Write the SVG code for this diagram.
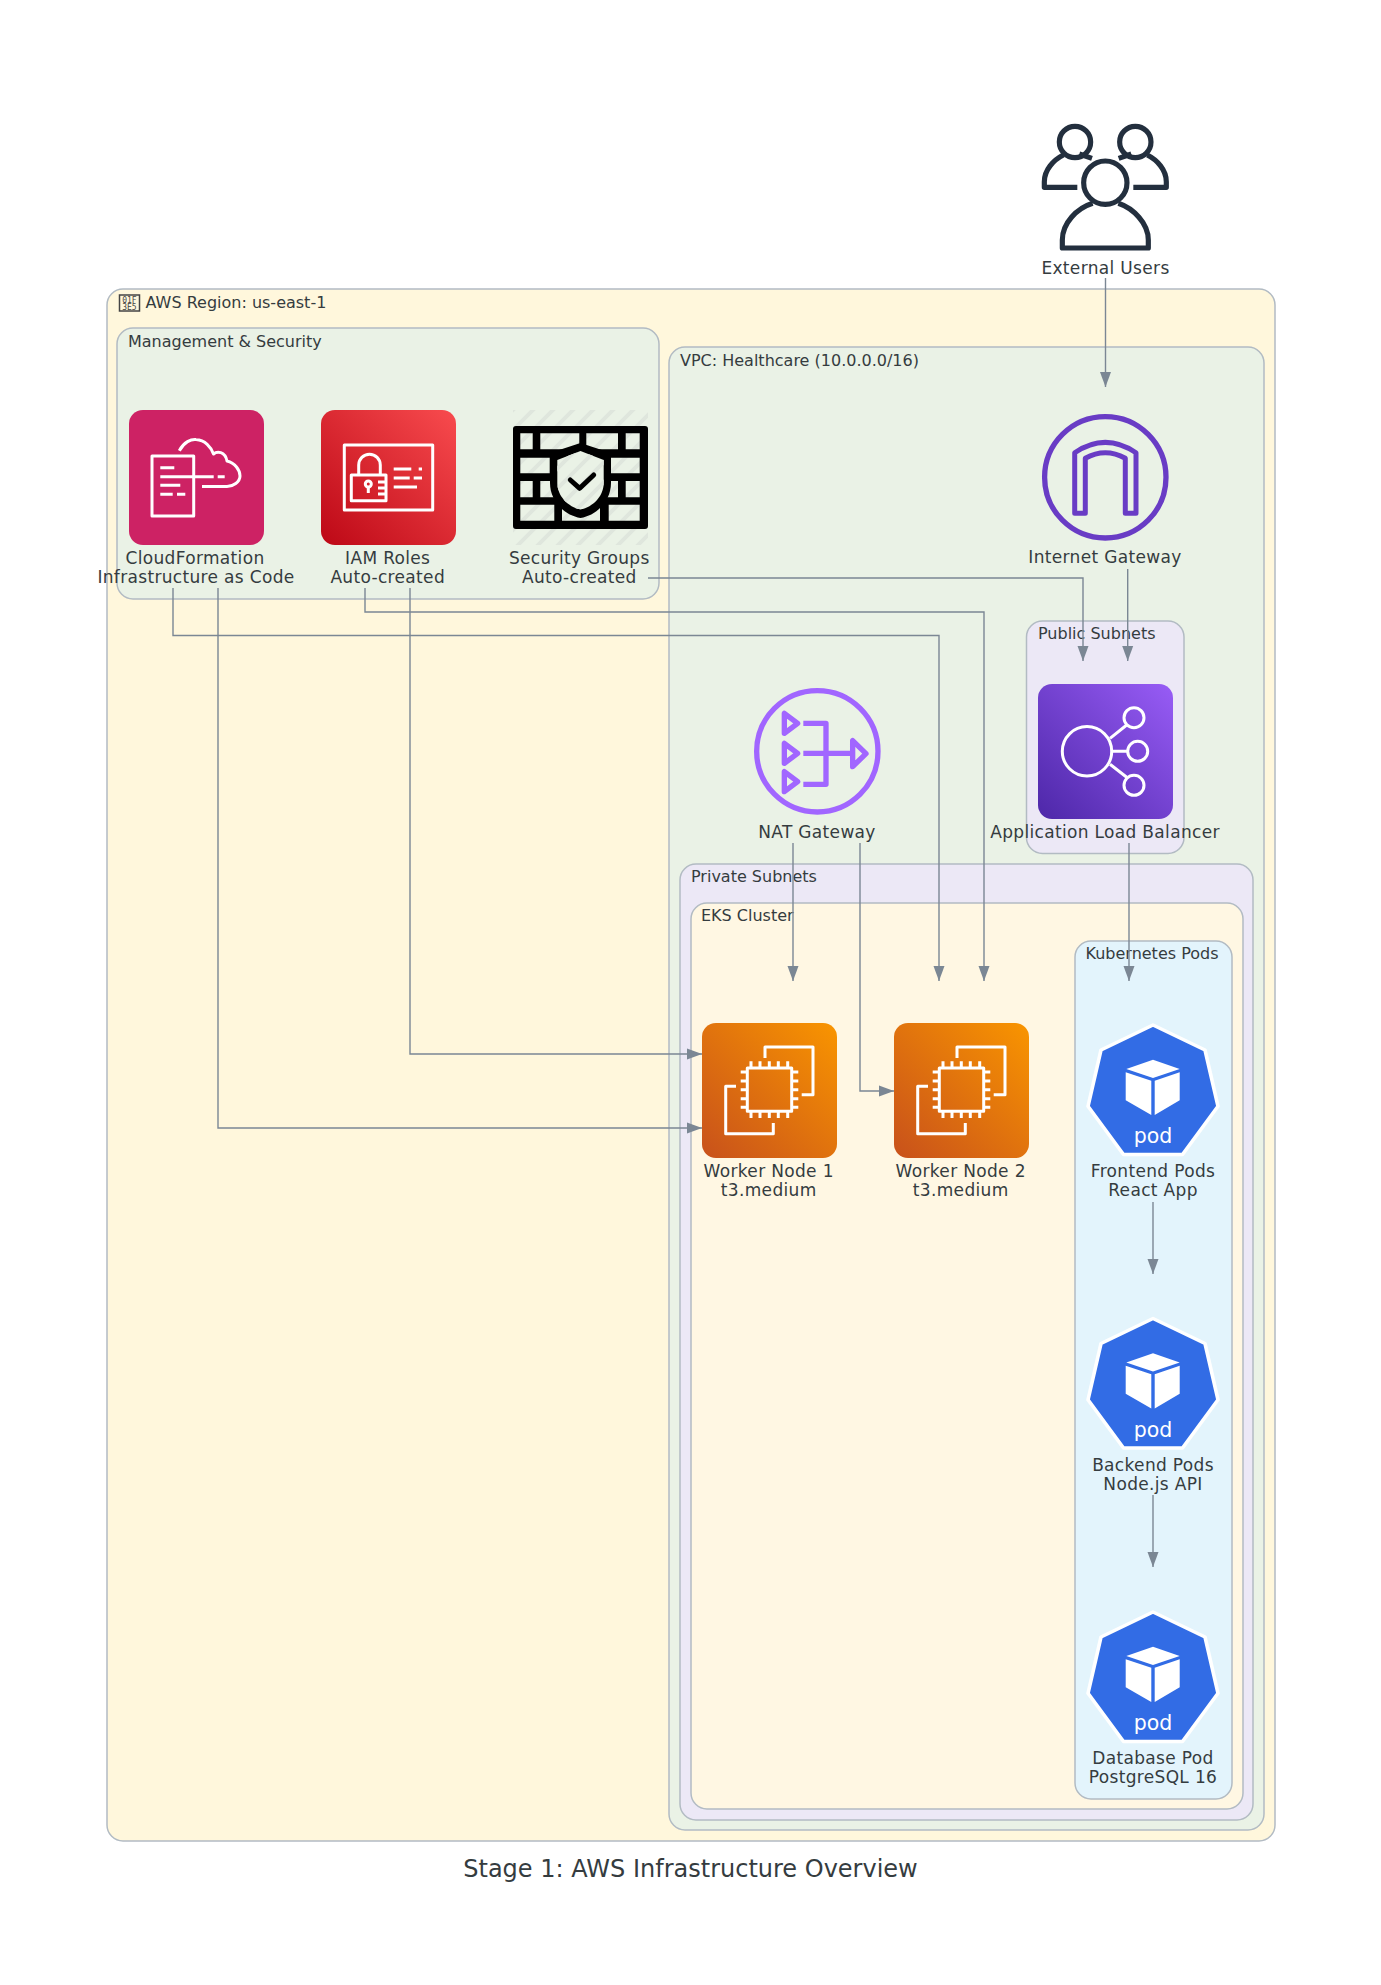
<svg xmlns="http://www.w3.org/2000/svg" width="1381" height="1985" viewBox="0 0 1381 1985">
<style>
text{font-family:"DejaVu Sans","Liberation Sans",sans-serif;fill:#353c3f}
.l{font-size:17px;letter-spacing:.33px;text-anchor:middle}
.c{font-size:16px}
.t{font-size:24px;text-anchor:middle}
.p{font-size:20.500px;fill:#fff;text-anchor:middle}
.h{font-family:"DejaVu Sans Mono",monospace;font-size:8px;fill:#444}
.cl{stroke:#b2bbc3;stroke-width:1.5}
.e{fill:none;stroke:#7b8794;stroke-width:1.4;marker-end:url(#ah)}
.w{fill:none;stroke:#fff;stroke-width:3;stroke-linejoin:round}
</style>
<defs>
<marker id="ah" markerUnits="userSpaceOnUse" markerWidth="16" markerHeight="12" refX="15" refY="6" orient="auto"><path d="M0 .5L15 6L0 11.5Z" fill="#7b8794"/></marker>
<linearGradient id="g-iam" x1="0" y1="1" x2="1" y2="0"><stop offset="0" stop-color="#bd0816"/><stop offset="1" stop-color="#f84b4e"/></linearGradient>
<linearGradient id="g-ec2" x1="0" y1="1" x2="1" y2="0"><stop offset="0" stop-color="#c8511b"/><stop offset="1" stop-color="#f99500"/></linearGradient>
<linearGradient id="g-alb" x1="0" y1="1" x2="1" y2="0"><stop offset="0" stop-color="#4d27a8"/><stop offset="1" stop-color="#985cf6"/></linearGradient>
<pattern id="hatch" width="20" height="20" patternUnits="userSpaceOnUse" patternTransform="translate(513 410)"><path d="M-5 5L5 -5M-5 25L25 -5M15 25L25 15" stroke="#dfe6dd" stroke-width="4" fill="none"/></pattern>
<g id="ec2-icon">
<rect width="135" height="135" rx="14" fill="url(#g-ec2)"/>
<path class="w" d="M63 35V24H111V71.700H99.700M34 63.300H23.700V110.700H71.300V100M45.300 45H89.700V88.300H45.300Z"/>
<path class="w" d="M49 38.300V45M58 38.300V45M67.300 38.300V45M76.300 38.300V45M85.700 38.300V45M49 88.300V95M58 88.300V95M67.300 88.300V95M76.300 88.300V95M85.700 88.300V95M38.700 49H45.300M38.700 58H45.300M38.700 66.700H45.300M38.700 75.700H45.300M38.700 84.300H45.300M89.700 49H96.300M89.700 58H96.300M89.700 66.700H96.300M89.700 75.700H96.300M89.700 84.300H96.300"/>
</g>
<g id="pod-icon">
<path d="M0 2L52 27L65 83.300L29.500 131.500H-29.500L-65 83.300L-52 27Z" fill="#326ce5" stroke="#fff" stroke-width="3.600" stroke-linejoin="round"/>
<path d="M0 36.700L26.700 46L0 55L-26.700 46ZM-27.300 49.300L-1.700 57.700V92L-27.300 77.300ZM1.700 57.700L26.700 49.300V77.300L1.700 92Z" fill="#fff"/>
<text class="p" x="0" y="120">pod</text>
</g>
</defs>
<rect width="1381" height="1985" fill="#fff"/>
<g id="clusters">
<g id="region"><rect class="cl" x="107" y="289" width="1168" height="1552" rx="16" fill="#fff7dc"/>
<rect x="119.500" y="295" width="20" height="16" fill="none" stroke="#444" stroke-width="1.500"/><text class="h" x="122.200" y="302.500">01F</text><text class="h" x="122.200" y="310">3E5</text>
<text class="c" x="145.500" y="308">AWS Region: us-east-1</text></g>
<g id="management"><rect class="cl" x="117" y="328" width="542" height="271" rx="16" fill="#eaf2e6"/><text class="c" x="128" y="347">Management &amp; Security</text></g>
<g id="vpc"><rect class="cl" x="669" y="347" width="595" height="1483" rx="16" fill="#eaf2e6"/><text class="c" x="680" y="366">VPC: Healthcare (10.0.0.0/16)</text></g>
<g id="public"><rect class="cl" x="1026.500" y="621" width="157.500" height="232.500" rx="16" fill="#ece8f6"/><text class="c" x="1038" y="639">Public Subnets</text></g>
<g id="private"><rect class="cl" x="680" y="864" width="573" height="956" rx="16" fill="#ece8f6"/><text class="c" x="691" y="882">Private Subnets</text></g>
<g id="eks"><rect class="cl" x="691" y="903" width="552" height="906" rx="16" fill="#fff7e3"/><text class="c" x="701" y="921">EKS Cluster</text></g>
<g id="pods"><rect class="cl" x="1075" y="941" width="157" height="858" rx="16" fill="#e3f4fc"/><text class="c" x="1085.500" y="959">Kubernetes Pods</text></g>
</g>
<g id="connectors">
<path class="e" d="M1105.500 278V387"/>
<path class="e" d="M1127.700 569V661"/>
<path class="e" d="M648 578H1083V661"/>
<path class="e" d="M365 588V612H984V981"/>
<path class="e" d="M173 588V635.500H939V981"/>
<path class="e" d="M218 588V1128H702"/>
<path class="e" d="M410 588V1054H702"/>
<path class="e" d="M793 843V981"/>
<path class="e" d="M860 843V1091H894"/>
<path class="e" d="M1129 843V981"/>
<path class="e" d="M1153 1202V1274"/>
<path class="e" d="M1153 1495V1567"/>
</g>
<g id="users">
<g transform="translate(1000 100) scale(.3333)" fill="none" stroke="#232f3e" stroke-width="15.500" stroke-linejoin="round">
<circle cx="316" cy="248" r="65"/><circle cx="225" cy="126" r="47"/><circle cx="406" cy="126" r="47"/>
<path d="M278 310C230 325 187 370 187 420V444H445V420C445 370 400 325 355 310M232 262H133V245C133 210 160 180 190 165M238 162L276 175M400 262H499V245C499 210 472 180 442 165M394 162L356 175"/>
</g>
<text class="l" x="1105.500" y="274">External Users</text>
</g>
<g id="igw">
<circle cx="1105.300" cy="477.300" r="60.700" fill="none" stroke="#693cc5" stroke-width="5.300"/>
<path d="M1074.700 513.300V452.700Q1105.300 432 1136 452.700V513.300H1125.300V458.300Q1105.300 447 1085.300 458.300V513.300Z" fill="none" stroke="#693cc5" stroke-width="5" stroke-linejoin="round"/>
<text class="l" x="1105" y="563">Internet Gateway</text>
</g>
<g id="cloudformation">
<g transform="translate(129 410)">
<rect width="135" height="135" rx="14" fill="#cd2264"/>
<path class="w" d="M23 46H64.700V106H23ZM31.300 57.700H45.300M31.300 66.700H84.700M88.700 66.700H95.700M31.300 75.300H51.300M31.300 84.300H43.700M48 84.300H56.300M50.300 40.700C55 32 62 29 67 29.500C76 30 82 37 84.500 44C88 41 96 41 98 51C106 53 111 60 111 66C111 72 104 76.500 98 76.500H73"/>
</g>
<text class="l" x="195" y="564">CloudFormation</text><text class="l" x="196" y="583">Infrastructure as Code</text>
</g>
<g id="iam">
<g transform="translate(321 410)">
<rect width="135" height="135" rx="14" fill="url(#g-iam)"/>
<path class="w" d="M23.300 35H111.700V100H23.300ZM30.300 65H65V90.700H30.300ZM37.700 65V55a10.800 10.800 0 0 1 21.600 0V65M47.300 77V83M57 72H65M57 78H65M57 84H65M72.700 59H90.300M97.700 59H101M72.700 68H88.700M92.700 68H101M72.700 77H96"/>
<circle class="w" cx="47.300" cy="74" r="3"/>
</g>
<text class="l" x="387.700" y="564">IAM Roles</text><text class="l" x="387.700" y="583">Auto-created</text>
</g>
<g id="security-groups">
<rect x="513" y="410" width="135" height="135" fill="url(#hatch)"/>
<g transform="translate(513 410)">
<path fill-rule="evenodd" d="M3 16H132A3 3 0 0 1 135 19V116A3 3 0 0 1 132 119H3A3 3 0 0 1 0 116V19A3 3 0 0 1 3 16ZM7.300 23.300V39.300H19.700V23.300ZM27.300 23.300V39.300H66.300V23.300ZM73.300 23.300V39.300H105V23.300ZM112.700 23.300V39.300H126.700V23.300ZM7.300 47.700V63.300H36.700V47.700ZM98 47.700V63.300H126.700V47.700ZM7.300 71V87.300H19.700V71ZM27.300 71V87.300H44V71ZM91 71V87.300H105V71ZM112.700 71V87.300H126.700V71ZM7.300 94.700V110.700H41.300V94.700ZM49 94.700V110.700H87V94.700ZM95.700 94.700V110.700H126.700V94.700Z"/>
<path d="M67.500 33L98 43V73C98 90 85 105 67.500 108C50 105 37 90 37 73V43Z"/>
<path d="M67.500 41L90.700 50V73C90.700 86 80 97 67.500 99.500C55 97 44.300 86 44.300 73V50Z" fill="#eaf2e6"/>
<path d="M67.500 41L90.700 50V73C90.700 86 80 97 67.500 99.500C55 97 44.300 86 44.300 73V50Z" fill="url(#hatch)"/>
<path d="M57.300 70L66.700 78.300L80.700 65" fill="none" stroke="#000" stroke-width="5" stroke-linecap="round" stroke-linejoin="round"/>
</g>
<text class="l" x="579.300" y="564">Security Groups</text><text class="l" x="579.300" y="583">Auto-created</text>
</g>
<g id="nat">
<g transform="translate(730 670) scale(.3333)" fill="none" stroke="#a166ff" stroke-width="16" stroke-linejoin="round">
<circle cx="262" cy="244" r="182"/>
<path d="M163 130V190L203 160ZM163 220V280L203 250ZM163 305V365L203 335ZM368 212V290L408 251ZM220 160H288V343H220M220 250H368"/>
</g>
<text class="l" x="817" y="838">NAT Gateway</text>
</g>
<g id="alb">
<g transform="translate(1038 684)">
<rect width="135" height="135" rx="14" fill="url(#g-alb)"/>
<circle class="w" cx="49" cy="67.300" r="24.700"/><circle class="w" cx="96" cy="33.700" r="10"/><circle class="w" cx="99.700" cy="67.300" r="10"/><circle class="w" cx="96" cy="101.300" r="10"/>
<path class="w" d="M72 54.300L88.700 41M73.700 67.300H89.700M72 80.300L88.700 93.300"/>
</g>
<text class="l" x="1105" y="838">Application Load Balancer</text>
</g>
<g id="worker-1"><use href="#ec2-icon" x="702" y="1023"/><text class="l" x="768.700" y="1177">Worker Node 1</text><text class="l" x="768.700" y="1196">t3.medium</text></g>
<g id="worker-2"><use href="#ec2-icon" x="894" y="1023"/><text class="l" x="960.700" y="1177">Worker Node 2</text><text class="l" x="960.700" y="1196">t3.medium</text></g>
<g id="frontend"><use href="#pod-icon" x="1153" y="1023"/><text class="l" x="1153" y="1177">Frontend Pods</text><text class="l" x="1153" y="1196">React App</text></g>
<g id="backend"><use href="#pod-icon" x="1153" y="1316.500"/><text class="l" x="1153" y="1470.500">Backend Pods</text><text class="l" x="1153" y="1489.500">Node.js API</text></g>
<g id="database"><use href="#pod-icon" x="1153" y="1610"/><text class="l" x="1153" y="1764">Database Pod</text><text class="l" x="1153" y="1783">PostgreSQL 16</text></g>
<text class="t" x="690.500" y="1877">Stage 1: AWS Infrastructure Overview</text>
</svg>
